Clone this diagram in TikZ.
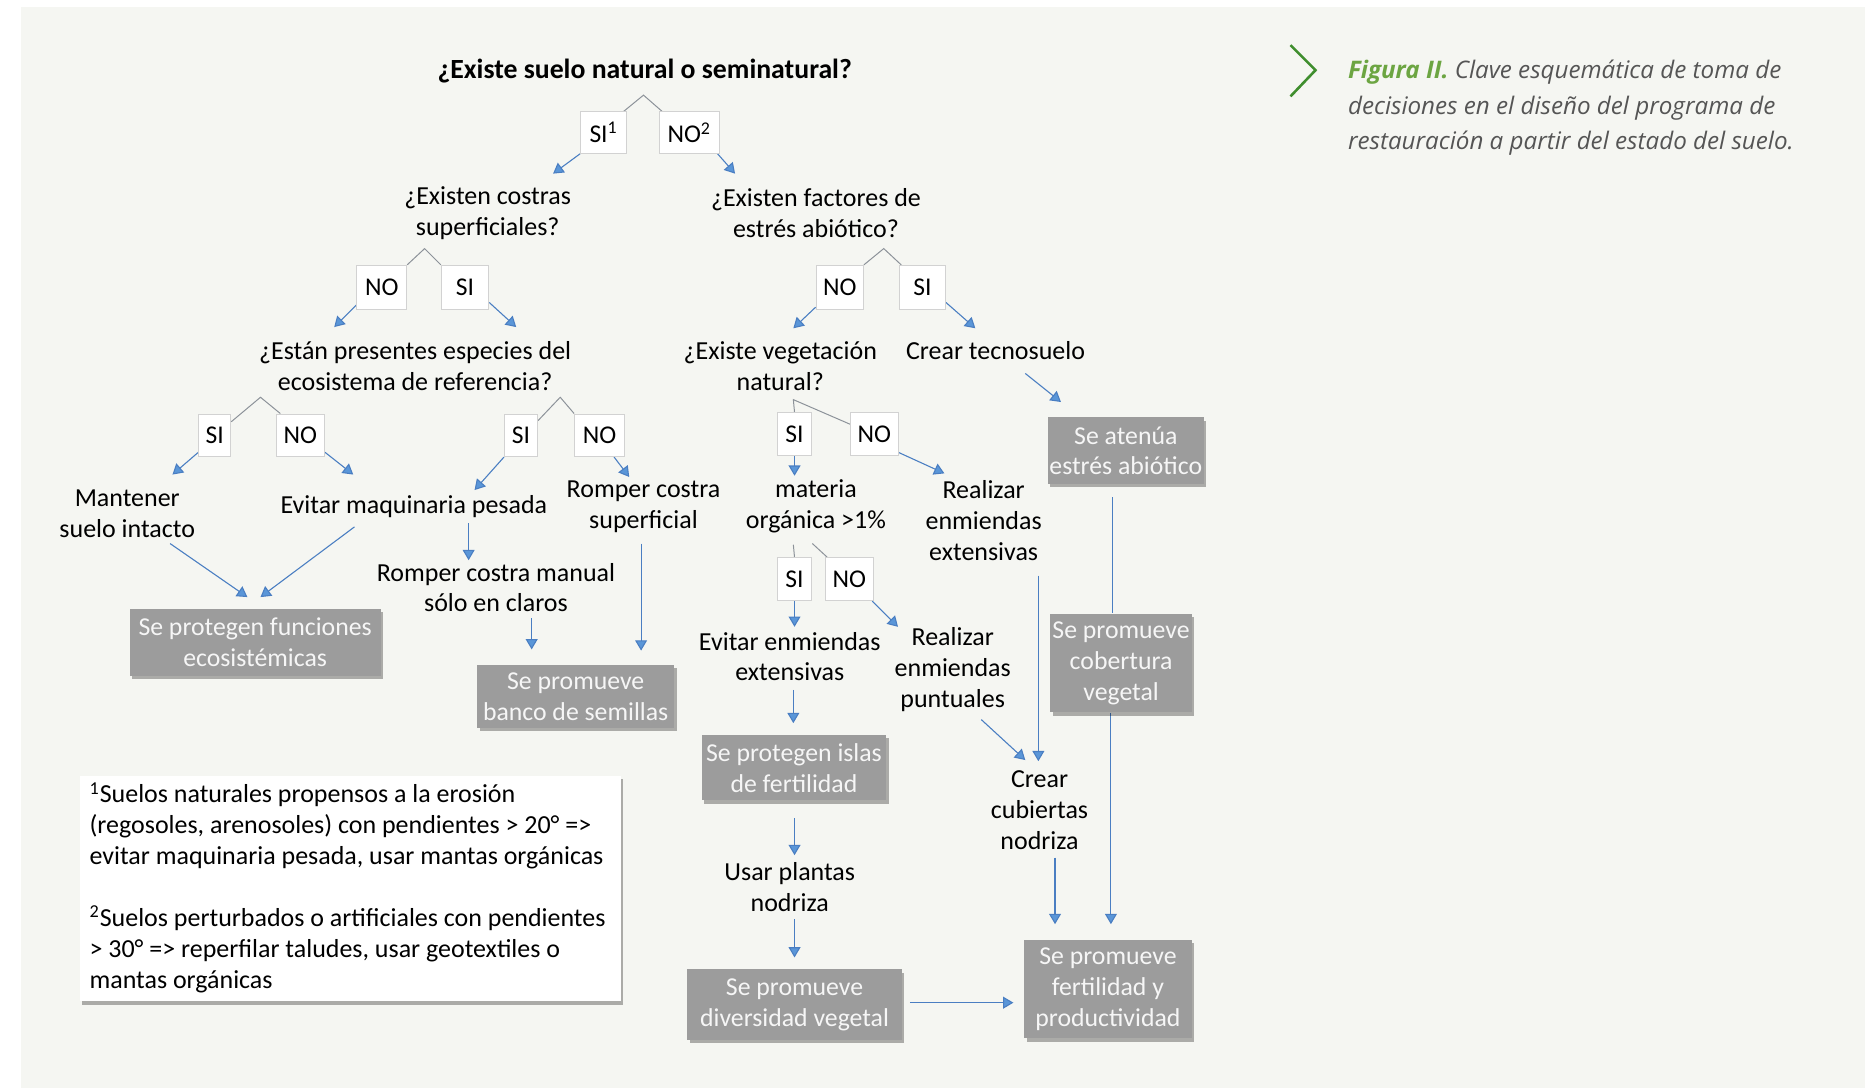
\documentclass[tikz,border=0pt]{standalone}
\usepackage{fontspec}
\setmainfont{Carlito}
\newfontfamily\capfont{Open Sans}
\usetikzlibrary{arrows.meta,shadows,calc}
\newlength\un
\setlength\un{0.6pt}
\definecolor{panel}{HTML}{F5F6F2}
\definecolor{arrowblue}{HTML}{4A7EC2}
\definecolor{arrowfill}{HTML}{5A96D8}
\definecolor{splitgray}{HTML}{8C9299}
\definecolor{boxgray}{HTML}{9C9C9C}
\definecolor{boxtext}{HTML}{F6F6F6}
\definecolor{capgreen}{HTML}{6CA542}
\definecolor{chevgreen}{HTML}{3F8E2E}
\definecolor{captext}{HTML}{555555}
\pgfdeclarelayer{bg}
\pgfsetlayers{bg,main}
\begin{document}
\begin{tikzpicture}[x=0.6pt,y=-0.6pt,
  txt/.style={font=\fontsize{13.1}{15.6}\selectfont, align=center, inner sep=0pt, text=black, yshift=-0.6pt},
  lbl/.style={draw=gray!35, fill=white, line width=0.4pt, minimum width=#1\un, minimum height=36\un, inner sep=0pt, font=\fontsize{12.9}{15.6}\selectfont},
  gbox/.style n args={2}{fill=boxgray, minimum width=#1\un, minimum height=#2\un, inner sep=0pt, align=center, text=boxtext, font=\fontsize{13}{15.6}\selectfont, drop shadow={shadow xshift=1.3pt, shadow yshift=-1.6pt, fill=black, opacity=0.3}},
  arr/.style={draw=arrowblue, line width=0.55pt, -{Triangle[length=5.2pt,width=6pt,fill=arrowfill]}},
  spl/.style={draw=splitgray, line width=0.5pt},
  capt/.style={anchor=base west, inner sep=0pt, text=captext, font=\capfont\itshape\fontsize{12.2}{18}\selectfont}
]
\useasboundingbox (0,0) rectangle (1568,915);
\begin{pgfonlayer}{bg}
\fill[white] (0,0) rectangle (1568,915);
\fill[panel] (18,6) rectangle (1568,915);
\end{pgfonlayer}

% caption
\draw[chevgreen, line width=1.3pt] (1085,38) -- (1106,59) -- (1085,81);
\node[capt] (cap1) at (1133,66) {{\bfseries\color{capgreen}Figura II.} Clave esquemática de toma de};
\node[capt] (cap2) at (1133,96) {decisiones en el diseño del programa de};
\node[capt] (cap3) at (1133,126) {restauración a partir del estado del suelo.};

% texts
\node[txt, font=\bfseries\fontsize{14}{15.6}\selectfont] (title) at (542,59) {¿Existe suelo natural o seminatural?};
\node[txt] (q2) at (410,178) {¿Existen costras\\superficiales?};
\node[txt] (q3) at (686,178) {¿Existen factores de\\estrés abiótico?};
\node[txt] (q4) at (349,307) {¿Están presentes especies del\\ecosistema de referencia?};
\node[txt] (q5) at (656,307) {¿Existe vegetación\\natural?};
\node[txt] (tecno) at (837,294) {Crear tecnosuelo};
\node[txt] (mantener) at (107,431) {Mantener\\suelo intacto};
\node[txt] (evitar) at (348,425) {Evitar maquinaria pesada};
\node[txt] (rompersup) at (541,425) {Romper costra\\superficial};
\node[txt] (rompman) at (417,493) {Romper costra manual\\sólo en claros};
\node[txt] (materia) at (686,425) {materia\\orgánica >1\%};
\node[txt] (realext) at (827,437) {Realizar\\enmiendas\\extensivas};
\node[txt] (evitarenm) at (664,551) {Evitar enmiendas\\extensivas};
\node[txt] (realpunt) at (801,562) {Realizar\\enmiendas\\puntuales};
\node[txt] (crearcub) at (874,680) {Crear\\cubiertas\\nodriza};
\node[txt] (usar) at (664,745) {Usar plantas\\nodriza};

% label boxes
\node[lbl=39, minimum height=35\un] (si1) at (507.5,111.5) {SI\textsuperscript{1}};
\node[lbl=51, minimum height=35\un] (no2) at (579.5,111.5) {NO\textsuperscript{2}};
\node[lbl=42, minimum height=37\un] (noL2) at (321,241.5) {NO};
\node[lbl=40, minimum height=37\un] (siL2) at (391,241.5) {SI};
\node[lbl=40, minimum height=37\un] (noR2) at (706,241.5) {NO};
\node[lbl=39, minimum height=37\un] (siR2) at (775.5,241.5) {SI};
\node[lbl=27] (siL3a) at (180.5,366) {SI};
\node[lbl=41] (noL3a) at (252.5,366) {NO};
\node[lbl=28] (siL3b) at (438,366) {SI};
\node[lbl=42] (noL3b) at (504,366) {NO};
\node[lbl=28] (siR3) at (668,365) {SI};
\node[lbl=40] (noR3) at (735,365) {NO};
\node[lbl=28] (siR4) at (668,487) {SI};
\node[lbl=40] (noR4) at (714,487) {NO};

% grey result boxes
\node[gbox={211}{56}] (funciones) at (214.5,540) {Se protegen funciones\\ecosistémicas};
\node[gbox={166}{53}] (banco) at (484,585.5) {Se promueve\\banco de semillas};
\node[gbox={155}{55}] (islas) at (667.5,645.5) {Se protegen islas\\de fertilidad};
\node[gbox={180}{59}] (diversidad) at (668,844.5) {Se promueve\\diversidad vegetal};
\node[gbox={141}{83}] (fertilidad) at (931.5,831.5) {Se promueve\\fertilidad y\\productividad};
\node[gbox={131}{56}] (atenua) at (946.5,379) {Se atenúa\\estrés abiótico};
\node[gbox={119}{83}] (cobertura) at (942.5,557.5) {Se promueve\\cobertura\\vegetal};

% footnote box
\node[fill=white, minimum width=455\un, minimum height=190\un, inner sep=0pt, drop shadow={shadow xshift=1.3pt, shadow yshift=-1.6pt, fill=black, opacity=0.3}] (fnbox) at (294.5,747) {};
\node[txt, align=left, anchor=north west] (fn) at (75,656.5) {\textsuperscript{1}Suelos naturales propensos a la erosión\\(regosoles, arenosoles) con pendientes > 20° =>\\evitar maquinaria pesada, usar mantas orgánicas\\[15.6pt]\textsuperscript{2}Suelos perturbados o artificiales con pendientes\\> 30° => reperfilar taludes, usar geotextiles o\\mantas orgánicas};

% coordinates
\coordinate (a1) at (541,80);
\coordinate (a2) at (357,209);
\coordinate (a3) at (743,209);
\coordinate (a4) at (219,334);
\coordinate (a5) at (471,334);
\coordinate (a6) at (667,336);
\coordinate (a7) at (667,458);
\coordinate (a8) at (683,457);

\coordinate (t1) at (465,146);
\coordinate (t2) at (618,146);
\coordinate (t3) at (281,275);
\coordinate (t4) at (434,275);
\coordinate (t5) at (667,276);
\coordinate (t6) at (820,276);
\coordinate (t7) at (145,399);
\coordinate (t8) at (297,399);
\coordinate (t9) at (399,412);
\coordinate (t10) at (529,401);
\coordinate (s11) at (143,457); \coordinate (t11) at (208,502);
\coordinate (s12) at (298,443); \coordinate (t12) at (219,502);
\coordinate (s13) at (394,440); \coordinate (t13) at (394,471);
\coordinate (s14) at (447,520); \coordinate (t14) at (447,546);
\coordinate (s15) at (539,457); \coordinate (t15) at (539,547);
\coordinate (t16) at (668,400);
\coordinate (t17) at (794,398);
\coordinate (t18) at (668,527);
\coordinate (t19) at (755,527);
\coordinate (s20) at (667,580); \coordinate (t20) at (667,608);
\coordinate (s21) at (668,688); \coordinate (t21) at (668,719);
\coordinate (s22) at (668,773); \coordinate (t22) at (668,805);
\coordinate (s23) at (765,843); \coordinate (t23) at (852,843);
\coordinate (s24) at (825,605); \coordinate (t24) at (862,639);
\coordinate (s25) at (873,484); \coordinate (t25) at (873,640);
\coordinate (s26) at (887,721); \coordinate (t26) at (887,777);
\coordinate (t27) at (934,777);
\coordinate (s28) at (862,314); \coordinate (t28) at (892,338);
\coordinate (s29) at (935,418);

\begin{pgfonlayer}{bg}
% split lines
\draw[spl] ($(si1.north east)+(-3,0)$) -- (a1) -- ($(no2.north west)+(3,0)$);
\draw[spl] (noL2.north east) -- (a2) -- (siL2.north west);
\draw[spl] (noR2.north east) -- (a3) -- ($(siR2.north west)+(2,0)$);
\draw[spl] ($(siL3a.north east)+(0,7)$) -- (a4) -- ($(noL3a.north west)+(4,0)$);
\draw[spl] ($(siL3b.north east)+(0,6)$) -- (a5) -- (noL3b.north west);
\draw[spl] (siR3.north) -- (a6) -- ($(noR3.north west)+(0,10)$);
\draw[spl] (a7) -- (siR4.north);
\draw[spl] (a8) -- ($(noR4.north west)+(2,0)$);
% arrows
\draw[arr] (si1.south west) -- (t1);
\draw[arr] ($(no2.south east)+(-2,0)$) -- (t2);
\draw[arr] ($(noL2.south west)+(0,-4)$) -- (t3);
\draw[arr] ($(siL2.south east)+(0,-6)$) -- (t4);
\draw[arr] ($(noR2.south west)+(0,-2)$) -- (t5);
\draw[arr] ($(siR2.south east)+(0,-6)$) -- (t6);
\draw[arr] ($(siL3a.south west)+(0,-4)$) -- (t7);
\draw[arr] ($(noL3a.south east)+(0,-4)$) -- (t8);
\draw[arr] (siL3b.south west) -- (t9);
\draw[arr] ($(noL3b.south east)+(-9,0)$) -- (t10);
\draw[arr] (s11) -- (t11);
\draw[arr] (s12) -- (t12);
\draw[arr] (s13) -- (t13);
\draw[arr] (s14) -- (t14);
\draw[arr] (s15) -- (t15);
\draw[arr] (siR3.south) -- (t16);
\draw[arr] ($(noR3.south east)+(0,-3)$) -- (t17);
\draw[arr] (siR4.south) -- (t18);
\draw[arr] ($(noR4.south east)+(-1,0)$) -- (t19);
\draw[arr] (s20) -- (t20);
\draw[arr] (s21) -- (t21);
\draw[arr] (s22) -- (t22);
\draw[arr] (s23) -- (t23);
\draw[arr] (s24) -- (t24);
\draw[arr] (s25) -- (t25);
\draw[arr] (s26) -- (t26);
\draw[arr] (cobertura.south -| t27) -- (t27);
\draw[arr] (s28) -- (t28);
\draw[draw=arrowblue, line width=0.55pt] (s29) -- (s29 |- cobertura.north);
\end{pgfonlayer}
\end{tikzpicture}
\end{document}
